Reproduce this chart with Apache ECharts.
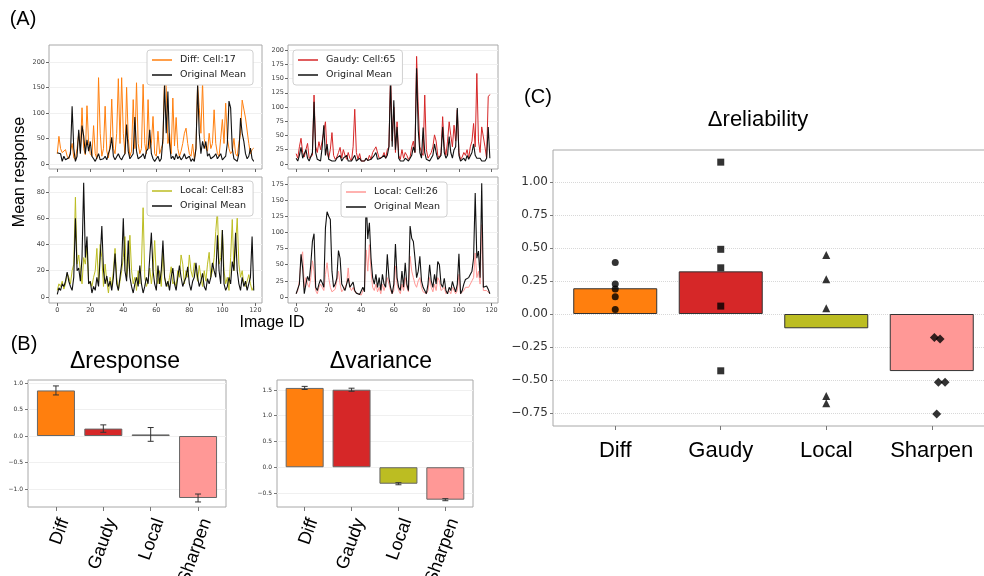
<!DOCTYPE html>
<html>
<head>
<meta charset="utf-8">
<script src="https://cdn.jsdelivr.net/npm/echarts@6/dist/echarts.min.js"></script>
<style>
  html, body { margin: 0; padding: 0; background: #fff; }
  #main { width: 984px; height: 576px; }
</style>
</head>
<body>
<div id="main"></div>
<script>
// ---- (A) mean response per image, 120 images ----
const diffCell17 = [20,54,30,22,25,28,15,10,25,40, 12,8,30,60,25,110,30,18,114,40, 20,15,75,20,10,169,60,15,30,113, 25,12,40,127,30,20,60,167,40,169, 60,20,150,50,15,25,126,30,159,40, 20,30,156,40,20,126,30,40,93,20, 15,64,20,30,40,175,150,40,60,20, 129,35,91,30,15,25,40,60,70,40, 20,15,39,10,30,155,110,60,160,50, 30,25,60,30,40,106,40,20,15,50, 87,40,119,50,30,20,25,50,20,15, 40,60,125,122,90,87,40,20,28,31];
const diffMean17 = [22,22,20,5,15,8,5,12,20,113, 30,5,15,67,20,75,55,20,47,25, 44,15,10,5,12,20,8,5,10,15, 8,20,30,52,15,8,10,20,12,8, 15,20,77,25,10,15,20,92,25,10, 8,15,20,10,25,30,67,20,10,5, 8,15,5,10,50,155,60,142,40,10, 15,8,20,10,15,8,12,20,10,8, 15,5,10,5,30,155,60,20,44,30, 44,15,20,10,8,15,20,10,15,20, 8,10,15,40,123,110,30,10,8,5, 20,90,60,44,20,10,15,31,10,5];
const gaudyCell65 = [18,10,30,45,20,12,25,36,10,8, 15,121,30,20,39,25,40,42,74,20, 10,25,55,15,8,12,20,29,10,25, 15,8,20,10,5,30,96,20,8,18, 5,8,5,10,6,15,8,20,25,30, 28,10,8,12,20,10,25,30,159,40, 100,20,74,15,8,25,10,20,15,8, 12,30,40,20,189,100,30,20,15,121, 25,10,15,20,30,51,40,15,10,20, 83,30,15,40,74,50,30,68,40,95, 20,8,12,20,15,25,10,30,40,71, 30,159,40,20,65,66,30,10,118,122];
const gaudyMean65 = [10,5,15,29,10,8,25,10,5,8, 20,109,20,8,10,5,30,68,15,35, 8,10,5,8,5,10,8,15,5,10, 8,15,5,8,5,10,15,5,8,10, 5,8,5,10,6,5,8,10,15,20, 8,5,10,8,15,10,15,30,147,30, 112,25,65,10,5,8,5,10,8,5, 10,15,30,20,168,60,20,10,64,20, 8,10,5,8,15,35,20,8,10,15, 65,20,10,15,48,20,10,25,30,98, 15,5,8,10,5,15,8,10,20,35, 15,10,8,10,5,8,5,10,65,10];
const localCell83 = [5,10,8,12,6,10,18,15,10,20, 25,76,25,32,20,10,30,25,38,10, 12,8,15,20,37,10,40,30,8,25, 12,3,15,8,20,37,15,5,12,20, 30,46,15,25,47,20,10,15,5,20, 10,25,68,15,8,12,22,10,20,43, 15,10,20,8,36,15,10,8,15,23, 10,12,8,20,15,32,25,10,20,15, 32,20,15,26,20,12,24,15,8,20, 12,25,34,15,20,30,50,66,25,30, 51,20,10,15,5,30,59,20,40,60, 25,15,20,10,8,12,17,10,5,8];
const localMean83 = [2,7,5,10,8,12,19,12,8,5, 15,60,20,22,12,30,87,30,46,10, 12,3,8,5,15,8,30,54,20,10, 16,8,12,5,15,33,10,5,15,25, 60,20,12,43,15,8,3,10,15,8, 24,10,3,8,15,10,30,49,20,10, 5,24,10,20,43,15,8,12,5,15, 22,10,5,15,24,15,8,12,15,23, 10,5,12,15,26,15,8,12,18,8, 5,14,10,15,26,20,15,47,20,10, 51,10,5,8,15,10,27,20,49,20, 10,5,15,8,12,5,10,15,46,5];
const localCell26 = [5,10,25,60,70,15,30,20,15,30, 56,40,10,5,15,20,15,10,35,53, 30,15,8,10,12,15,40,20,8,10, 15,20,45,15,10,15,8,5,5,3, 3,10,15,73,40,81,40,15,10,20, 8,15,5,20,10,8,30,20,10,5, 10,48,20,10,5,20,10,30,15,8, 63,40,30,20,15,25,30,15,8,5, 5,10,30,15,8,20,10,30,25,10, 8,15,5,5,10,5,15,10,5,10, 35,5,5,10,15,12,15,20,25,30, 68,30,40,20,112,10,8,10,8,5];
const localMean26 = [5,8,20,66,45,5,20,32,25,50, 86,98,15,10,20,27,22,15,107,132, 125,120,40,15,20,29,72,60,20,15, 10,20,29,15,18,23,10,6,5,4, 3,15,8,153,90,115,60,30,20,35, 15,30,10,35,20,15,66,30,15,5, 20,82,30,15,10,40,15,53,20,10, 110,91,86,60,30,40,63,25,15,10, 5,20,50,25,15,35,20,55,50,20, 15,29,10,5,15,10,24,15,8,20, 67,5,10,20,27,25,30,32,40,60, 161,60,71,30,176,15,15,17,12,5];

const idTicks = [0, 20, 40, 60, 80, 100, 120];
const diffTicks = [0, 50, 100, 150, 200];
const gaudyTicks = [0, 25, 50, 75, 100, 125, 150, 175, 200];
const local83Ticks = [0, 20, 40, 60, 80];
const local26Ticks = [0, 25, 50, 75, 100, 125, 150, 175];

// ---- (B) and (C) ----
const methods = ['Diff', 'Gaudy', 'Local', 'Sharpen'];
const methodColors = ['#ff7f0e', '#d62728', '#bcbd22', '#ff9896'];
const responseMean = [0.86, 0.14, 0.03, -1.17];
const responseErr = [0.085, 0.07, 0.13, 0.075];
const varianceMean = [1.54, 1.505, -0.32, -0.63];
const varianceErr = [0.03, 0.03, 0.02, 0.02];
const responseTicks = [-1.0, -0.5, 0.0, 0.5, 1.0];
const varianceTicks = [-0.5, 0.0, 0.5, 1.0, 1.5];

const reliabilityMean = [0.195, 0.323, -0.108, -0.432];
const reliabilityDiff = [[0, 0.39], [0, 0.227], [0, 0.19], [0, 0.131], [0, 0.035]];
const reliabilityGaudy = [[1, 1.15], [1, 0.49], [1, 0.35], [1, 0.06], [1, -0.43]];
const reliabilityLocal = [[2, 0.447], [2, 0.263], [2, 0.043], [2, -0.62], [2, -0.676]];
const reliabilitySharpen = [[3.025, -0.177], [3.079, -0.19], [3.063, -0.517], [3.126, -0.517], [3.047, -0.757]];
const reliabilityTicks = [-0.75, -0.5, -0.25, 0, 0.25, 0.5, 0.75, 1.0];
const catTicks = [0, 1, 2, 3];

const TICK_FONT = 'DejaVu Sans';
const TEXT_FONT = 'Liberation Sans, Arial, sans-serif';

let chartDom = document.getElementById('main');
let myChart = echarts.init(chartDom, null, { renderer: 'canvas' });

const frame = { show: true, borderColor: '#a8a8a8', borderWidth: 1, outerBoundsMode: 'none', containLabel: false };
const noLine = { show: false, onZero: false };

function minus(s) { return s.replace('-', '\u2212'); }

function xAxisA(gi, labels) {
  return {
    type: 'value', gridIndex: gi, min: -5, max: 124,
    axisLine: noLine, splitLine: { show: false },
    axisTick: { show: true, length: 3, customValues: idTicks, lineStyle: { color: '#666' } },
    axisLabel: { show: labels, customValues: idTicks, fontSize: 6.5, color: '#444', margin: 4, fontFamily: TICK_FONT }
  };
}

function yAxisA(gi, min, max, ticks) {
  return {
    type: 'value', gridIndex: gi, min: min, max: max,
    axisLine: noLine,
    splitLine: { show: true, lineStyle: { color: '#f0f0f0', width: 1 } },
    axisTick: { show: true, length: 3, customValues: ticks, lineStyle: { color: '#666' } },
    axisLabel: { customValues: ticks, fontSize: 6.5, color: '#444', margin: 4, fontFamily: TICK_FONT }
  };
}

function trace(name, values, color, width, gi) {
  return {
    type: 'line', name: name, xAxisIndex: gi, yAxisIndex: gi,
    data: values.map((v, i) => [i, v]),
    symbol: 'none', lineStyle: { color: color, width: width }, itemStyle: { color: color },
    animation: false
  };
}

function legendA(left, top, names) {
  return {
    data: names, orient: 'vertical', left: left, top: top,
    icon: 'rect', itemWidth: 20, itemHeight: 1.5, itemGap: 5,
    padding: [5, 7, 5, 5], backgroundColor: '#fff',
    borderColor: '#d0d0d0', borderWidth: 1, borderRadius: 3,
    textStyle: { fontFamily: TICK_FONT, fontSize: 9.5, color: '#222', padding: [0, 0, 0, 3] },
    selectedMode: false
  };
}

function catAxis(gi, fontSize, rotate, margin) {
  return {
    type: 'value', gridIndex: gi, min: -0.59, max: 3.59,
    axisLine: noLine, splitLine: { show: false },
    axisTick: { show: true, length: 4, customValues: catTicks, lineStyle: { color: '#777' } },
    axisLabel: {
      customValues: catTicks, formatter: v => methods[Math.round(v)],
      fontSize: fontSize, rotate: rotate, margin: margin, color: '#000', fontFamily: TEXT_FONT,
      verticalAlign: rotate ? 'top' : undefined
    }
  };
}

function numAxis(gi, min, max, ticks, digits, fontSize, dotted) {
  return {
    type: 'value', gridIndex: gi, min: min, max: max,
    axisLine: noLine,
    splitLine: { show: true, lineStyle: { color: dotted ? '#d8d8d8' : '#f0f0f0', type: dotted ? 'dotted' : 'solid' } },
    axisTick: { show: true, length: 3, customValues: ticks, lineStyle: { color: '#777' } },
    axisLabel: {
      customValues: ticks, formatter: v => minus(v.toFixed(digits)),
      fontSize: fontSize, color: '#333', margin: 5, fontFamily: TICK_FONT
    }
  };
}

function bars(gi, means, width, edge) {
  return {
    type: 'bar', xAxisIndex: gi, yAxisIndex: gi, barWidth: width, animation: false,
    data: means.map((m, i) => ({ value: [i, m], itemStyle: { color: methodColors[i], borderColor: edge, borderWidth: 1 } }))
  };
}

function errorBars(gi, means, errs) {
  return {
    type: 'custom', xAxisIndex: gi, yAxisIndex: gi, z: 5, animation: false,
    data: means.map((m, i) => [i, m - errs[i], m + errs[i]]),
    renderItem: (params, api) => {
      const lo = api.coord([api.value(0), api.value(1)]);
      const hi = api.coord([api.value(0), api.value(2)]);
      const w = 3;
      const st = { stroke: '#333', lineWidth: 1 };
      return {
        type: 'group', children: [
          { type: 'line', shape: { x1: lo[0], y1: lo[1], x2: hi[0], y2: hi[1] }, style: st },
          { type: 'line', shape: { x1: lo[0] - w, y1: lo[1], x2: lo[0] + w, y2: lo[1] }, style: st },
          { type: 'line', shape: { x1: hi[0] - w, y1: hi[1], x2: hi[0] + w, y2: hi[1] }, style: st }
        ]
      };
    }
  };
}

function dots(data, symbol, size) {
  return {
    type: 'scatter', xAxisIndex: 6, yAxisIndex: 6, data: data, symbol: symbol, symbolSize: size,
    itemStyle: { color: '#000' }, z: 6, animation: false
  };
}

function label(text, x, y, size, extra) {
  return Object.assign({
    type: 'text', x: x, y: y,
    style: { text: text, fontSize: size, fontFamily: TEXT_FONT, fill: '#000', align: 'center', verticalAlign: 'middle' }
  }, extra || {});
}

let option = {
  backgroundColor: '#fff',
  animation: false,
  grid: [
    Object.assign({ left: 49, top: 45, width: 213, height: 124 }, frame),
    Object.assign({ left: 288, top: 45, width: 210, height: 124 }, frame),
    Object.assign({ left: 49, top: 177, width: 213, height: 126 }, frame),
    Object.assign({ left: 288, top: 177, width: 210, height: 126 }, frame),
    Object.assign({ left: 28, top: 380, width: 198, height: 127 }, frame),
    Object.assign({ left: 277, top: 380, width: 196, height: 127 }, frame),
    Object.assign({ left: 553, top: 150, width: 441, height: 276 }, frame)
  ],
  xAxis: [
    xAxisA(0, false), xAxisA(1, false), xAxisA(2, true), xAxisA(3, true),
    catAxis(4, 18, 70, 9), catAxis(5, 18, 70, 9), catAxis(6, 22, 0, 14)
  ],
  yAxis: [
    yAxisA(0, -10, 233, diffTicks),
    yAxisA(1, -9, 209, gaudyTicks),
    yAxisA(2, -4.6, 91.4, local83Ticks),
    yAxisA(3, -9.3, 185.8, local26Ticks),
    numAxis(4, -1.34, 1.057, responseTicks, 1, 6, false),
    numAxis(5, -0.772, 1.694, varianceTicks, 1, 6, false),
    numAxis(6, -0.848, 1.242, reliabilityTicks, 2, 12, true)
  ],
  legend: [
    legendA(147, 50, ['Diff: Cell:17', 'Original Mean']),
    legendA(293, 50, ['Gaudy: Cell:65', 'Original Mean']),
    legendA(147, 181, ['Local: Cell:83', 'Original Mean']),
    legendA(341, 182, ['Local: Cell:26', 'Original Mean'])
  ],
  series: [
    trace('Diff: Cell:17', diffCell17, methodColors[0], 1, 0),
    trace('Original Mean', diffMean17, '#111', 1.1, 0),
    trace('Gaudy: Cell:65', gaudyCell65, methodColors[1], 1, 1),
    trace('Original Mean', gaudyMean65, '#111', 1.1, 1),
    trace('Local: Cell:83', localCell83, methodColors[2], 1, 2),
    trace('Original Mean', localMean83, '#111', 1.1, 2),
    trace('Local: Cell:26', localCell26, methodColors[3], 1, 3),
    trace('Original Mean', localMean26, '#111', 1.1, 3),
    bars(4, responseMean, 38, '#666'),
    errorBars(4, responseMean, responseErr),
    bars(5, varianceMean, 38, '#666'),
    errorBars(5, varianceMean, varianceErr),
    bars(6, reliabilityMean, 84, '#333'),
    dots(reliabilityDiff, 'circle', 7),
    dots(reliabilityGaudy, 'rect', 7),
    dots(reliabilityLocal, 'triangle', 8),
    dots(reliabilitySharpen, 'diamond', 9)
  ],
  graphic: [
    label('(A)', 23, 19, 20),
    label('Mean response', 20, 172, 16, { rotation: Math.PI / 2 }),
    label('Image ID', 272, 323, 16),
    label('(B)', 24, 344, 20),
    label('\u0394response', 125, 362, 23),
    label('\u0394variance', 381, 362, 23),
    label('(C)', 538, 97, 20),
    label('\u0394reliability', 758, 120, 22)
  ]
};

myChart.setOption(option);
</script>
</body>
</html>
